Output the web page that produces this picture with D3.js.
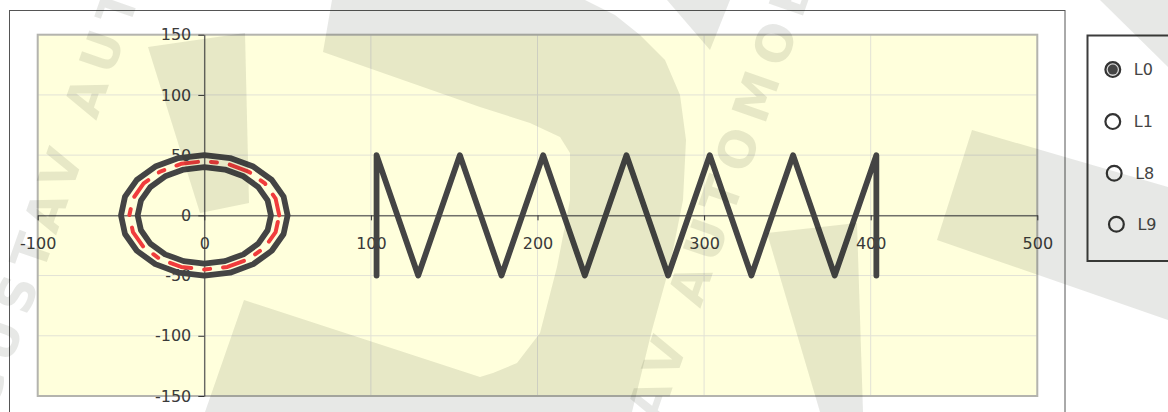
<!DOCTYPE html>
<html><head><meta charset="utf-8">
<script src="https://cdn.jsdelivr.net/npm/d3@7/dist/d3.min.js"></script>
<style>html,body{margin:0;padding:0;background:#fff;overflow:hidden}</style>
</head><body>
<svg id="chart" width="1168" height="412"></svg>
<script>
// ---- data ----
const xTicks = [-100, 0, 100, 200, 300, 400, 500];
const yTicks = [-150, -100, -50, 0, 50, 100, 150];
const seriesNames = ["L0", "L1", "L8", "L9"];

const L0_x = [50, 47.6, 40.5, 29.4, 15.5, 0, -15.5, -29.4, -40.5, -47.6, -50, -47.6, -40.5, -29.4, -15.5, 0, 15.5, 29.4, 40.5, 47.6, 50];
const L0_y = [0, 15.5, 29.4, 40.5, 47.6, 50, 47.6, 40.5, 29.4, 15.5, 0, -15.5, -29.4, -40.5, -47.6, -50, -47.6, -40.5, -29.4, -15.5, 0];

const L1_x = [45, 42.8, 36.4, 26.5, 13.9, 0, -13.9, -26.5, -36.4, -42.8, -45, -42.8, -36.4, -26.5, -13.9, 0, 13.9, 26.5, 36.4, 42.8, 45];
const L1_y = [0, 13.9, 26.5, 36.4, 42.8, 45, 42.8, 36.4, 26.5, 13.9, 0, -13.9, -26.5, -36.4, -42.8, -45, -42.8, -36.4, -26.5, -13.9, 0];

const L8_x = [40, 38, 32.4, 23.5, 12.4, 0, -12.4, -23.5, -32.4, -38, -40, -38, -32.4, -23.5, -12.4, 0, 12.4, 23.5, 32.4, 38, 40];
const L8_y = [0, 12.4, 23.5, 32.4, 38, 40, 38, 32.4, 23.5, 12.4, 0, -12.4, -23.5, -32.4, -38, -40, -38, -32.4, -23.5, -12.4, 0];

const L9_x = [103.4, 103.4, 128.4, 153.4, 178.4, 203.4, 228.4, 253.4, 278.4, 303.4, 328.4, 353.4, 378.4, 403.4, 403.4];
const L9_y = [-50, 50, -50, 50, -50, 50, -50, 50, -50, 50, -50, 50, -50, 50, -50];

// ---- layout ----
const W = 1168, H = 412;
const plot = {l: 37.7, r: 1037.3, t: 34.7, b: 396};
const FONT = "'DejaVu Sans', Verdana, sans-serif";

const svg = d3.select("#chart");
const x = d3.scaleLinear().domain([-100, 500]).range([plot.l, plot.r]);
const y = d3.scaleLinear().domain([-150, 150]).range([plot.b, plot.t]);

// outer frame
svg.append("rect").attr("x", 9.5).attr("y", 10.5).attr("width", 1055.5).attr("height", 420)
  .attr("fill", "#fff").attr("stroke", "#555").attr("stroke-width", 1);

// plot background
svg.append("rect").attr("x", plot.l).attr("y", plot.t)
  .attr("width", plot.r - plot.l).attr("height", plot.b - plot.t)
  .attr("fill", "#ffffdc");

// grid
const grid = svg.append("g").attr("stroke", "#e2e2d6").attr("stroke-width", 1);
grid.selectAll("line.v").data(xTicks).join("line")
  .attr("x1", d => x(d)).attr("x2", d => x(d)).attr("y1", plot.t).attr("y2", plot.b);
grid.selectAll("line.h").data(yTicks).join("line").attr("class", "h")
  .attr("y1", d => y(d)).attr("y2", d => y(d)).attr("x1", plot.l).attr("x2", plot.r);

// plot border
svg.append("rect").attr("x", plot.l).attr("y", plot.t)
  .attr("width", plot.r - plot.l).attr("height", plot.b - plot.t)
  .attr("fill", "none").attr("stroke", "#b4b4ae").attr("stroke-width", 2);

// axes through origin
const gx = svg.append("g").attr("transform", `translate(0,${y(0)})`)
  .call(d3.axisBottom(x).tickValues(xTicks).tickSize(5).tickSizeOuter(0).tickPadding(17));
const gy = svg.append("g").attr("transform", `translate(${x(0)},0)`)
  .call(d3.axisLeft(y).tickValues(yTicks).tickSize(6).tickSizeOuter(0).tickPadding(7));
[gx, gy].forEach(g => {
  g.select(".domain").attr("stroke", "#333").attr("stroke-width", 1);
  g.selectAll(".tick line").attr("stroke", "#333");
  g.selectAll(".tick text").attr("fill", "#3a3a3a").style("font-family", FONT).style("font-size", "16px")
    .text(d => String(d));
});

// series
const line = d3.line().x(d => x(d[0])).y(d => y(d[1]));
const series = [
  {name: "L0", xs: L0_x, ys: L0_y, color: "#444", width: 5.8, dash: null},
  {name: "L1", xs: L1_x, ys: L1_y, color: "#f03c3c", width: 4, dash: "22,13,6,13"},
  {name: "L8", xs: L8_x, ys: L8_y, color: "#444", width: 5.8, dash: null},
  {name: "L9", xs: L9_x, ys: L9_y, color: "#444", width: 5.8, dash: null}
];
svg.append("g").selectAll("path").data(series).join("path")
  .attr("d", s => line(s.xs.map((v, i) => [v, s.ys[i]])))
  .attr("fill", "none").attr("stroke", s => s.color).attr("stroke-width", s => s.width)
  .attr("stroke-dasharray", s => s.dash).attr("stroke-linejoin", "round").attr("stroke-linecap", "round");

// legend
svg.append("rect").attr("x", 1087.5).attr("y", 35.5).attr("width", 100).attr("height", 225.5)
  .attr("fill", "#fff").attr("stroke", "#3c3c3c").attr("stroke-width", 2);
const legPos = [[1112.8, 69.6], [1112.8, 121.6], [1114.2, 173.2], [1116.4, 224.2]];
const lg = svg.append("g").selectAll("g").data(seriesNames).join("g")
  .attr("transform", (d, i) => `translate(${legPos[i][0]},${legPos[i][1]})`);
lg.append("circle").attr("r", 7.4).attr("fill", (d, i) => i === 0 ? "#d8d8d8" : "#fff")
  .attr("stroke", "#333").attr("stroke-width", 2.2);
lg.filter((d, i) => i === 0).append("circle").attr("r", 5).attr("fill", "#444");
lg.append("text").attr("x", 21).attr("y", 5.8).text(d => d)
  .attr("fill", "#444").style("font-family", FONT).style("font-size", "16px");

// watermark overlay
const wm = svg.append("g").attr("pointer-events", "none").attr("fill", "rgb(20,30,10)").attr("fill-opacity", 0.1);
const wmShapes = [
  [[332,0],[585,0],[615,15],[640,35],[665,60],[680,95],[686,140],[683,200],[670,265],[652,330],[632,412],[205,412],[244,300],[480,377],[493,373],[517,363],[540,333],[557,267],[570,200],[570,153],[560,137],[530,123],[480,107],[323,52]],
  [[148,47],[245,33],[249,203],[200,213]],
  [[667,0],[730,0],[710,50]],
  [[767,233],[857,223],[863,412],[820,412]],
  [[972,130],[1168,187],[1168,320],[937,240]],
  [[1100,0],[1168,0],[1168,67]]
];
wm.selectAll("path").data(wmShapes).join("path").attr("d", p => "M" + p.join("L") + "Z");
[[-6, 413], [598, 601]].forEach(p => {
  wm.append("text").attr("transform", `translate(${p[0]},${p[1]}) rotate(-70.7)`)
    .text("GUSTAV AUTOMOBILE").style("font-family", FONT).style("font-weight", "bold")
    .style("font-size", "50px").style("letter-spacing", "10px");
});
</script>
</body></html>
